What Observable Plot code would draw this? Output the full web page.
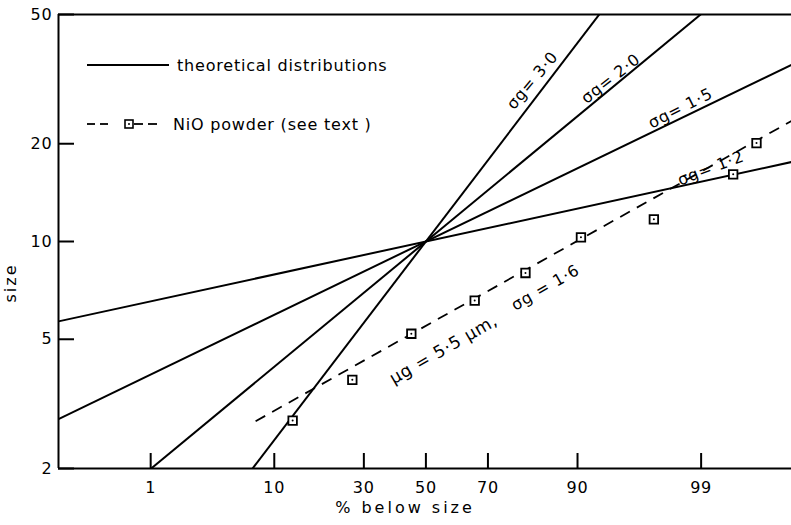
<!DOCTYPE html>
<html>
<head>
<meta charset="utf-8">
<script src="https://cdn.jsdelivr.net/npm/d3@7"></script>
<script src="https://cdn.jsdelivr.net/npm/@observablehq/plot@0.6"></script>
<style>
  html, body { margin: 0; padding: 0; background: #fff; }
  #chart svg { display: block; }
  #chart svg text { letter-spacing: 0.8px; }
  #chart svg text.xtitle { letter-spacing: 3px; }
  #chart svg text.ytitle { letter-spacing: 2px; }
</style>
</head>
<body>
<div id="chart"></div>
<script>
// ---- data ----
const yTicks = [2, 5, 10, 20, 50];
const xTicks = [1, 10, 30, 50, 70, 90, 99];          // % below size
const xDomainPct = [0.095, 99.9];
const yDomain = [2, 50];
const medianSize = 10;                                // common median of theoretical lines
const sigmas = [1.2, 1.5, 2.0, 3.0];
const sigmaLabels = ["σg= 1·2", "σg= 1·5", "σg= 2·0", "σg= 3·0"];
const nioPct  = [13.0, 26.7, 45.1, 66.0, 80.0, 90.5, 97.3, 99.53, 99.74];
const nioSize = [2.81, 3.75, 5.2, 6.58, 8.0, 10.3, 11.7, 16.1, 20.1];
const fitMedian = 5.5, fitSigma = 1.6, fitStartPct = 7.5;
const fitLabels = ["μg = 5·5 μm,", "σg = 1·6"];
const legendLabels = ["theoretical distributions", "NiO powder (see text )"];
const xTitle = "% below size", yTitle = "size";

// inverse normal CDF (Acklam)
function probit(p) {
  const a = [-3.969683028665376e+01, 2.209460984245205e+02, -2.759285104469687e+02, 1.383577518672690e+02, -3.066479806614716e+01, 2.506628277459239e+00];
  const b = [-5.447609879822406e+01, 1.615858368580409e+02, -1.556989798598866e+02, 6.680131188771972e+01, -1.328068155288572e+01];
  const c = [-7.784894002430293e-03, -3.223964580411365e-01, -2.400758277161838e+00, -2.549732539343734e+00, 4.374664141464968e+00, 2.938163982698783e+00];
  const d = [7.784695709041462e-03, 3.224671290700398e-01, 2.445134137142996e+00, 3.754408661907416e+00];
  const pl = 0.02425, ph = 1 - pl;
  let q, r;
  if (p < pl) {
    q = Math.sqrt(-2 * Math.log(p));
    return (((((c[0]*q+c[1])*q+c[2])*q+c[3])*q+c[4])*q+c[5]) / ((((d[0]*q+d[1])*q+d[2])*q+d[3])*q+1);
  }
  if (p <= ph) {
    q = p - 0.5; r = q * q;
    return (((((a[0]*r+a[1])*r+a[2])*r+a[3])*r+a[4])*r+a[5])*q / (((((b[0]*r+b[1])*r+b[2])*r+b[3])*r+b[4])*r+1);
  }
  q = Math.sqrt(-2 * Math.log(1 - p));
  return -(((((c[0]*q+c[1])*q+c[2])*q+c[3])*q+c[4])*q+c[5]) / ((((d[0]*q+d[1])*q+d[2])*q+d[3])*q+1);
}
const z = (pct) => probit(pct / 100);
const zMin = z(xDomainPct[0]), zMax = z(xDomainPct[1]);

const W = 791, H = 525, ML = 58, MR = 0, MT = 14, MB = 57;
const plotW = W - ML - MR, plotH = H - MT - MB;

const nio = nioPct.map((p, i) => ({p, s: nioSize[i]}));
const theo = sigmas.map((s, i) => ({s, label: sigmaLabels[i]}));

const legend = () => {
  const g = d3.create("svg:g").attr("font-size", 16).attr("fill", "black").attr("text-anchor", "start");
  g.append("line").attr("x1", 87).attr("x2", 169).attr("y1", 65).attr("y2", 65)
    .attr("stroke", "black").attr("stroke-width", 2);
  g.append("text").attr("x", 177).attr("y", 65).attr("dy", "0.35em").text(legendLabels[0]);
  const dashes = [[87, 95], [100, 108], [134, 143], [148, 157]];
  for (const [a, b] of dashes) {
    g.append("line").attr("x1", a).attr("x2", b).attr("y1", 124).attr("y2", 124)
      .attr("stroke", "black").attr("stroke-width", 1.8);
  }
  g.append("rect").attr("x", 125).attr("y", 120).attr("width", 8).attr("height", 8)
    .attr("fill", "white").attr("stroke", "black").attr("stroke-width", 1.6);
  g.append("circle").attr("cx", 129).attr("cy", 124).attr("r", 1).attr("fill", "black");
  g.append("text").attr("x", 173).attr("y", 124).attr("dy", "0.35em").text(legendLabels[1]);
  return g.node();
};

const titles = () => {
  const g = d3.create("svg:g").attr("font-size", 16).attr("fill", "black").attr("text-anchor", "middle");
  g.append("text").attr("class", "xtitle").attr("x", 405).attr("y", 507).attr("dy", "0.35em").text(xTitle);
  g.append("text").attr("class", "ytitle").attr("transform", "translate(10,283) rotate(-90)")
    .attr("dy", "0.35em").text(yTitle);
  return g.node();
};

const chart = Plot.plot({
  width: W, height: H,
  marginLeft: ML, marginRight: MR, marginTop: MT, marginBottom: MB,
  style: {fontFamily: "DejaVu Sans, sans-serif", fontSize: "16px", background: "white", color: "black"},
  x: {type: "linear", domain: [zMin, zMax]},
  y: {type: "log", domain: yDomain},
  marks: [
    // axes labels
    Plot.axisY(yTicks, {tickSize: 0, tickPadding: 6, fontSize: 16, label: null, tickFormat: d => String(d)}),
    Plot.axisX(xTicks.map(z), {tickSize: 0, tickPadding: 13, fontSize: 16, label: null,
      tickFormat: v => xTicks.find(t => Math.abs(z(t) - v) < 1e-6)}),
    // inward tick marks
    Plot.tickY(yTicks, {y: d => d, insetRight: plotW - 16, stroke: "black", strokeWidth: 2}),
    Plot.tickX(xTicks, {x: d => z(d), insetTop: plotH - 15, stroke: "black", strokeWidth: 2}),
    // frame: top, bottom, left
    Plot.ruleY([yDomain[1]], {stroke: "black", strokeWidth: 2}),
    Plot.ruleY([yDomain[0]], {stroke: "black", strokeWidth: 2}),
    Plot.ruleX([zMin], {stroke: "black", strokeWidth: 2}),
    // theoretical lines
    Plot.link(theo, {
      x1: () => zMin, x2: () => zMax,
      y1: d => medianSize * Math.pow(d.s, zMin), y2: d => medianSize * Math.pow(d.s, zMax),
      stroke: "black", strokeWidth: 2, clip: true
    }),
    // fitted NiO line
    Plot.link([{m: fitMedian, s: fitSigma}], {
      x1: () => z(fitStartPct), x2: () => zMax,
      y1: d => d.m * Math.pow(d.s, z(fitStartPct)), y2: d => d.m * Math.pow(d.s, zMax),
      stroke: "black", strokeWidth: 1.8, strokeDasharray: "11,8", clip: true
    }),
    // NiO points
    Plot.dot(nio, {x: d => z(d.p), y: "s", symbol: "square", r: 4.8, fill: "white", stroke: "black", strokeWidth: 1.8}),
    Plot.dot(nio, {x: d => z(d.p), y: "s", r: 1, fill: "black"}),
    // line labels
    Plot.text([theo[3]], {x: () => z(81.6), y: () => 31.3, text: "label", rotate: -50, fontSize: 16}),
    Plot.text([theo[2]], {x: () => z(94.1), y: () => 31.7, text: "label", rotate: -38, fontSize: 16}),
    Plot.text([theo[1]], {x: () => z(98.43), y: () => 25.7, text: "label", rotate: -27, fontSize: 16}),
    Plot.text([theo[0]], {x: () => z(99.2), y: () => 16.8, text: "label", rotate: -21, fontSize: 16}),
    Plot.text([fitLabels[0]], {x: () => z(55.95), y: () => 4.65, text: d => d, rotate: -30, fontSize: 17}),
    Plot.text([fitLabels[1]], {x: () => z(84.4), y: () => 7.21, text: d => d, rotate: -30, fontSize: 16}),
    // axis titles and legend
    titles,
    legend
  ]
});
document.getElementById("chart").append(chart);
</script>
</body>
</html>
